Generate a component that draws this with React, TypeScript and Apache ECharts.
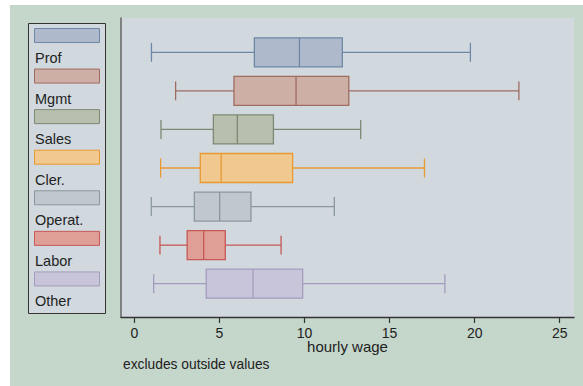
import React, { useEffect, useRef } from "react";
import * as echarts from "echarts";

const categories = ["Prof", "Mgmt", "Sales", "Cler.", "Operat.", "Labor", "Other"];
const lowerWhisker = [1.0, 2.42, 1.56, 1.54, 0.99, 1.5, 1.13];
const q1 = [7.05, 5.85, 4.64, 3.87, 3.52, 3.1, 4.22];
const median = [9.7, 9.5, 6.05, 5.1, 5.01, 4.07, 6.97];
const q3 = [12.22, 12.6, 8.17, 9.3, 6.85, 5.34, 9.89];
const upperWhisker = [19.75, 22.6, 13.3, 17.05, 11.75, 8.62, 18.25];
const xTicks = [0, 5, 10, 15, 20, 25];

const fills = ["#AEBACB", "#CEAFA6", "#B8BFAE", "#F0C890", "#C0C8CD", "#DF9F96", "#C8C5DA"];
const strokes = ["#6E87A6", "#A06C60", "#7C8973", "#E89A30", "#8A989E", "#C65855", "#A49CBE"];

const FONT = "'Liberation Sans', Arial, sans-serif";

export default function App() {
  const ref = useRef<HTMLDivElement>(null);
  useEffect(() => {
    if (!ref.current) return;
    const chart = echarts.init(ref.current, undefined, { renderer: "svg" });
    const data = categories.map((_, i) => [i, lowerWhisker[i], q1[i], median[i], q3[i], upperWhisker[i]]);

    const legendChildren: any[] = [
      {
        type: "rect",
        shape: { x: 18.5, y: 18.5, width: 77, height: 290 },
        style: { fill: "#D1D9DF", stroke: "#333", lineWidth: 1 },
      },
    ];
    categories.forEach((c, i) => {
      legendChildren.push({
        type: "rect",
        shape: { x: 24.5, y: 23.5 + i * 40.57, width: 65, height: 14 },
        style: { fill: fills[i], stroke: strokes[i], lineWidth: 1 },
      });
      legendChildren.push({
        type: "text",
        x: 25,
        y: 53 + i * 40.57,
        style: {
          text: c,
          fill: "#222",
          font: `14.5px ${FONT}`,
          textVerticalAlign: "middle",
          verticalAlign: "middle",
        },
      });
    });

    chart.setOption({
      animation: false,
      backgroundColor: "#C5D6CB",
      grid: {
        left: 111,
        top: 13,
        width: 453,
        height: 299,
        show: true,
        backgroundColor: "#D1D9DF",
        borderWidth: 0,
      },
      xAxis: {
        type: "value",
        min: -0.79,
        max: 25.84,
        name: "hourly wage",
        nameLocation: "middle",
        nameGap: 22,
        nameMoveOverlap: false,
        nameTextStyle: { color: "#222", fontSize: 15, fontFamily: FONT },
        axisLine: { show: true, onZero: false, lineStyle: { color: "#333", width: 1.3 } },
        axisTick: { show: true, length: 6, customValues: xTicks, lineStyle: { color: "#333", width: 1.2 } },
        axisLabel: { customValues: xTicks, color: "#222", fontSize: 14, fontFamily: FONT, margin: 9 },
        splitLine: { show: false },
      },
      yAxis: {
        type: "value",
        inverse: true,
        min: -0.889,
        max: 6.863,
        axisLine: { show: true, onZero: false, lineStyle: { color: "#666", width: 1.5 } },
        axisTick: { show: false },
        axisLabel: { show: false },
        splitLine: { show: false },
      },
      graphic: [
        ...legendChildren,
        {
          type: "text",
          x: 113,
          y: 359,
          style: {
            text: "excludes outside values",
            fill: "#222",
            font: `13.8px ${FONT}`,
            verticalAlign: "middle",
            textVerticalAlign: "middle",
          },
        },
      ],
      series: [
        {
          type: "custom",
          data,
          encode: { x: [1, 2, 3, 4, 5], y: 0 },
          renderItem: (params: any, api: any) => {
            const idx = api.value(0);
            const unit = api.size([0, 1])[1];
            const boxH = unit * 0.752;
            const capH = unit * 0.49;
            const yc = api.coord([0, idx])[1];
            const xl = api.coord([api.value(1), idx])[0];
            const xq1 = api.coord([api.value(2), idx])[0];
            const xm = api.coord([api.value(3), idx])[0];
            const xq3 = api.coord([api.value(4), idx])[0];
            const xh = api.coord([api.value(5), idx])[0];
            const st = { stroke: strokes[idx], lineWidth: 1.3 };
            return {
              type: "group",
              children: [
                { type: "line", shape: { x1: xl, y1: yc, x2: xq1, y2: yc }, style: st },
                { type: "line", shape: { x1: xq3, y1: yc, x2: xh, y2: yc }, style: st },
                { type: "line", shape: { x1: xl, y1: yc - capH / 2, x2: xl, y2: yc + capH / 2 }, style: st },
                { type: "line", shape: { x1: xh, y1: yc - capH / 2, x2: xh, y2: yc + capH / 2 }, style: st },
                {
                  type: "rect",
                  shape: { x: xq1, y: yc - boxH / 2, width: xq3 - xq1, height: boxH },
                  style: { fill: fills[idx], stroke: strokes[idx], lineWidth: 1.3 },
                },
                { type: "line", shape: { x1: xm, y1: yc - boxH / 2, x2: xm, y2: yc + boxH / 2 }, style: st },
              ],
            };
          },
        },
      ],
    });
    return () => chart.dispose();
  }, []);
  return (
    <div style={{ position: "fixed", left: 0, top: 0, width: 583, height: 386, background: "#fff" }}>
      <div ref={ref} style={{ position: "absolute", left: 10, top: 5, width: 573, height: 381 }} />
    </div>
  );
}
